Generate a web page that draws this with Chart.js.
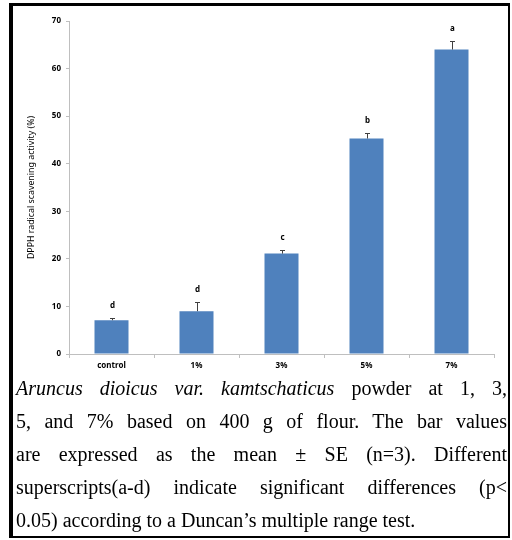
<!DOCTYPE html>
<html><head><meta charset="utf-8">
<script src="https://cdn.jsdelivr.net/npm/chart.js@4"></script>
<style>
html,body{margin:0;padding:0;background:#fff;width:512px;height:540px;overflow:hidden}
#frame{position:absolute;left:9px;top:3px;width:501px;height:535px;box-sizing:border-box;border-style:solid;border-color:#000;border-width:3px 2px 2px 4px}
#wrap{position:absolute;left:0;top:0;width:512px;height:375px}
#cap{position:absolute;left:16px;top:372px;width:491px;font-family:"Liberation Serif",serif;font-size:20px;line-height:33px;color:#000}
#cap div{text-align:justify;text-align-last:justify}
#cap div.last{text-align-last:left}
</style>
</head>
<body>
<div id="frame"></div>
<div id="wrap"><canvas id="c" width="512" height="375"></canvas></div>
<div id="cap">
<div><i>Aruncus dioicus var. kamtschaticus</i> powder at 1, 3,</div>
<div>5, and 7% based on 400 g of flour. The bar values</div>
<div>are expressed as the mean ± SE (n=3). Different</div>
<div>superscripts(a-d) indicate significant differences (p&lt;</div>
<div class="last">0.05) according to a Duncan’s multiple range test.</div>
</div>
<script>
const categories = ['control', '1%', '3%', '5%', '7%'];
const means = [7.1, 9.0, 21.1, 45.3, 64.0];
const errors = [0.5, 1.9, 0.85, 1.2, 1.9];
const letters = ['d', 'd', 'c', 'b', 'a'];
const yTicks = [0, 10, 20, 30, 40, 50, 60, 70];
const yTitle = 'DPPH radical scavening activity (%)';

const annot = {
  id: 'annot',
  afterDatasetsDraw(chart) {
    const ctx = chart.ctx, y = chart.scales.y;
    const meta = chart.getDatasetMeta(0);
    ctx.save();
    meta.data.forEach((bar, i) => {
      const x = Math.round(bar.x);
      const top = Math.round(y.getPixelForValue(means[i] + errors[i]));
      const base = y.getPixelForValue(means[i]);
      ctx.strokeStyle = '#404040';
      ctx.lineWidth = 1;
      ctx.beginPath();
      ctx.moveTo(x + 0.5, base);
      ctx.lineTo(x + 0.5, top);
      ctx.moveTo(x - 2, top + 0.5);
      ctx.lineTo(x + 3, top + 0.5);
      ctx.stroke();
      ctx.fillStyle = '#000';
      ctx.font = 'bold 8px "Noto Sans"';
      ctx.textAlign = 'center';
      ctx.textBaseline = 'middle';
      ctx.fillText(letters[i], x + 0.5, top - 12);
    });
    ctx.restore();
  }
};

new Chart(document.getElementById('c'), {
  type: 'bar',
  data: {
    labels: categories,
    datasets: [{
      data: means,
      backgroundColor: '#4F81BD',
      borderWidth: 0,
      categoryPercentage: 1,
      barPercentage: 0.4
    }]
  },
  options: {
    responsive: false,
    devicePixelRatio: 1,
    animation: false,
    layout: { padding: { left: 14, right: 18, top: 21, bottom: 3 } },
    plugins: { legend: { display: false }, tooltip: { enabled: false } },
    scales: {
      x: {
        afterFit: s => { s.height = 18; },
        grid: { display: true, drawOnChartArea: false, drawTicks: true, tickLength: 4, color: '#bfbfbf', offset: true },
        border: { display: true, color: '#bfbfbf' },
        ticks: { color: '#000', padding: 3, font: { family: 'Noto Sans', size: 8, weight: 'bold' } }
      },
      y: {
        min: 0, max: 70,
        afterFit: s => { s.width = 55; },
        afterBuildTicks: s => { s.ticks = yTicks.map(v => ({ value: v })); },
        grid: { display: true, drawOnChartArea: false, drawTicks: true, tickLength: 3, color: '#bfbfbf' },
        border: { display: true, color: '#bfbfbf' },
        ticks: { color: '#000', padding: 5, font: { family: 'Noto Sans', size: 8, weight: 'bold' } },
        title: { display: true, text: yTitle, color: '#000', padding: { top: 12, bottom: 0 }, font: { family: 'Noto Sans', size: 8.8 } }
      }
    }
  },
  plugins: [annot]
});
</script>
</body></html>
